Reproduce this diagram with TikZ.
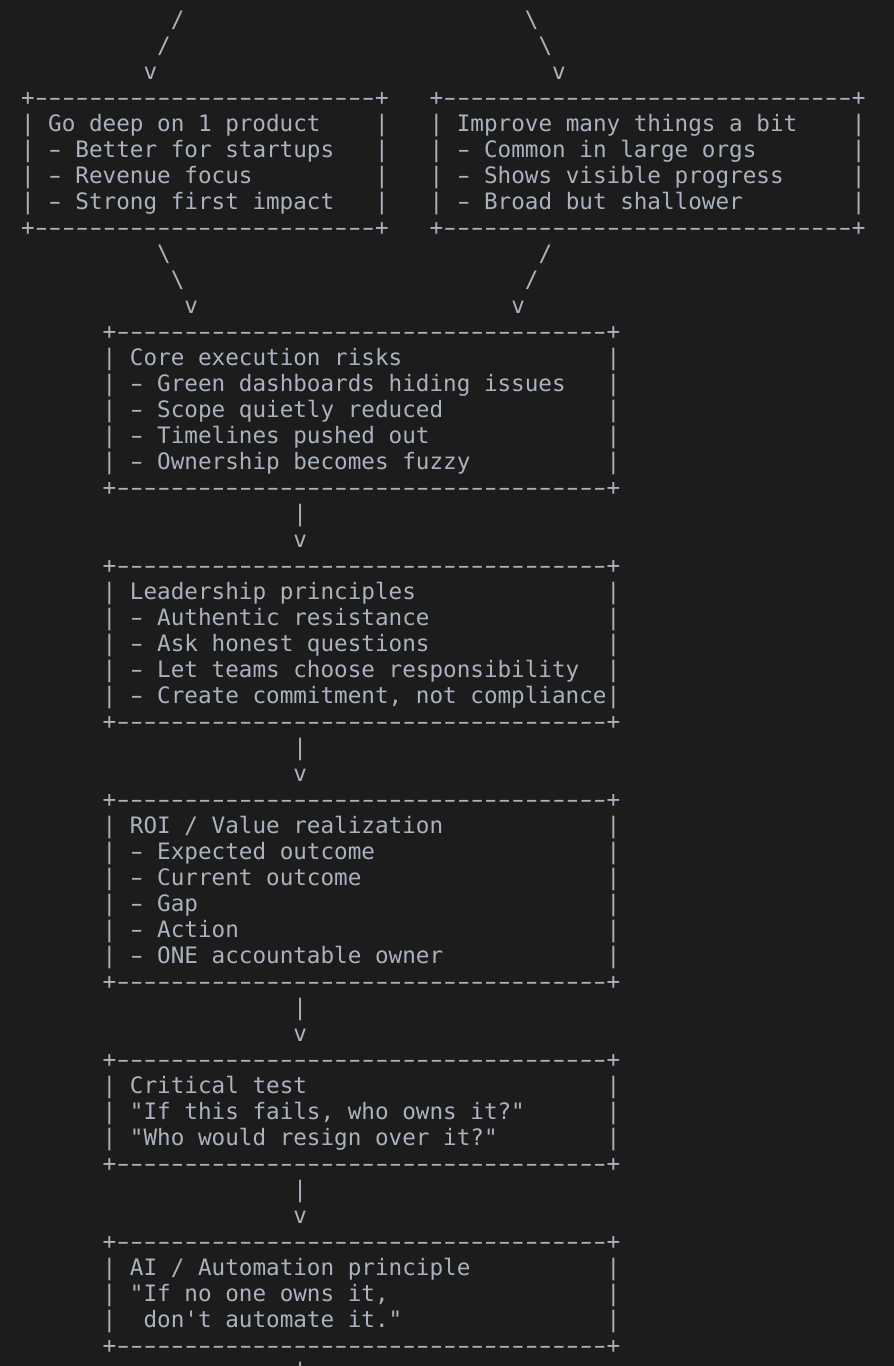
\documentclass[tikz,border=0pt]{standalone}
\usepackage{graphicx}
\usepackage{fontspec}
\setmonofont{DejaVu Sans Mono}
\definecolor{bgc}{HTML}{1C1C1C}
\definecolor{fgc}{HTML}{ABB2BF}
\newcommand{\xo}{21}
\newcommand{\cw}{13.62}
\newcommand{\yo}{27.5}
\newcommand{\lh}{26}
\newcommand{\aline}[4]{\node[txt] (#1) at ({\xo+#2*\cw},{\yo+#3*\lh}) {#4};}
\newcommand{\hy}{\makebox[\cw pt][c]{\scalebox{1.6}[1]{-}}}
\newcommand{\dashrow}[1]{+\foreach \k in {1,...,#1}{\hy}+}
\tikzset{
  txt/.style={anchor=base west, inner sep=0pt, outer sep=0pt, text=fgc,
    font=\ttfamily\frenchspacing\fontsize{22.62}{26}\selectfont},
}
\begin{document}
\begin{tikzpicture}[x=1pt,y=-1pt]
\fill[bgc] (0,0) rectangle (894,1366);
\useasboundingbox (0,0) rectangle (894,1366);
\clip (0,0) rectangle (894,1366);
% top connectors
\aline{a0l}{11}{0}{/}
\aline{a0r}{37}{0}{\textbackslash}
\aline{a1l}{10}{1}{/}
\aline{a1r}{38}{1}{\textbackslash}
\aline{a2l}{9}{2}{v}
\aline{a2r}{39}{2}{v}
% left box
\aline{Lt}{0}{3}{\dashrow{25}}
\aline{Lb}{0}{8}{\dashrow{25}}
\foreach \r in {4,...,7}{
  \aline{Ll\r}{0}{\r}{|}
  \aline{Lr\r}{26}{\r}{|}
  \aline{Rl\r}{30}{\r}{|}
  \aline{Rr\r}{61}{\r}{|}
}
\aline{L4}{2}{4}{Go deep on 1 product}
\aline{L5}{2}{5}{\hy{} Better for startups}
\aline{L6}{2}{6}{\hy{} Revenue focus}
\aline{L7}{2}{7}{\hy{} Strong first impact}
% right box
\aline{Rt}{30}{3}{\dashrow{30}}
\aline{Rb}{30}{8}{\dashrow{30}}
\aline{R4}{32}{4}{Improve many things a bit}
\aline{R5}{32}{5}{\hy{} Common in large orgs}
\aline{R6}{32}{6}{\hy{} Shows visible progress}
\aline{R7}{32}{7}{\hy{} Broad but shallower}
% merge connectors
\aline{b9l}{10}{9}{\textbackslash}
\aline{b9r}{38}{9}{/}
\aline{b10l}{11}{10}{\textbackslash}
\aline{b10r}{37}{10}{/}
\aline{b11l}{12}{11}{v}
\aline{b11r}{36}{11}{v}
% center boxes: borders and side bars
\foreach \r in {12,18,21,27,30,37,40,44,47,51}{
  \aline{B\r}{6}{\r}{\dashrow{36}}
}
\foreach \r in {13,...,17,22,23,24,25,26,31,32,33,34,35,36,41,42,43,48,49,50}{
  \aline{Sl\r}{6}{\r}{|}
  \aline{Sr\r}{43}{\r}{|}
}
% vertical connectors
\foreach \r in {19,28,38,45,52}{
  \aline{V\r}{20}{\r}{|}
}
\foreach \r in {20,29,39,46}{
  \aline{A\r}{20}{\r}{v}
}
% Core execution risks
\aline{C13}{8}{13}{Core execution risks}
\aline{C14}{8}{14}{\hy{} Green dashboards hiding issues}
\aline{C15}{8}{15}{\hy{} Scope quietly reduced}
\aline{C16}{8}{16}{\hy{} Timelines pushed out}
\aline{C17}{8}{17}{\hy{} Ownership becomes fuzzy}
% Leadership principles
\aline{P22}{8}{22}{Leadership principles}
\aline{P23}{8}{23}{\hy{} Authentic resistance}
\aline{P24}{8}{24}{\hy{} Ask honest questions}
\aline{P25}{8}{25}{\hy{} Let teams choose responsibility}
\aline{P26}{8}{26}{\hy{} Create commitment, not compliance}
% ROI
\aline{O31}{8}{31}{ROI / Value realization}
\aline{O32}{8}{32}{\hy{} Expected outcome}
\aline{O33}{8}{33}{\hy{} Current outcome}
\aline{O34}{8}{34}{\hy{} Gap}
\aline{O35}{8}{35}{\hy{} Action}
\aline{O36}{8}{36}{\hy{} ONE accountable owner}
% Critical test
\aline{T41}{8}{41}{Critical test}
\aline{T42}{8}{42}{"If this fails, who owns it?"}
\aline{T43}{8}{43}{"Who would resign over it?"}
% AI principle
\aline{I48}{8}{48}{AI / Automation principle}
\aline{I49}{8}{49}{"If no one owns it,}
\aline{I50}{9}{50}{don't automate it."}
\end{tikzpicture}
\end{document}
